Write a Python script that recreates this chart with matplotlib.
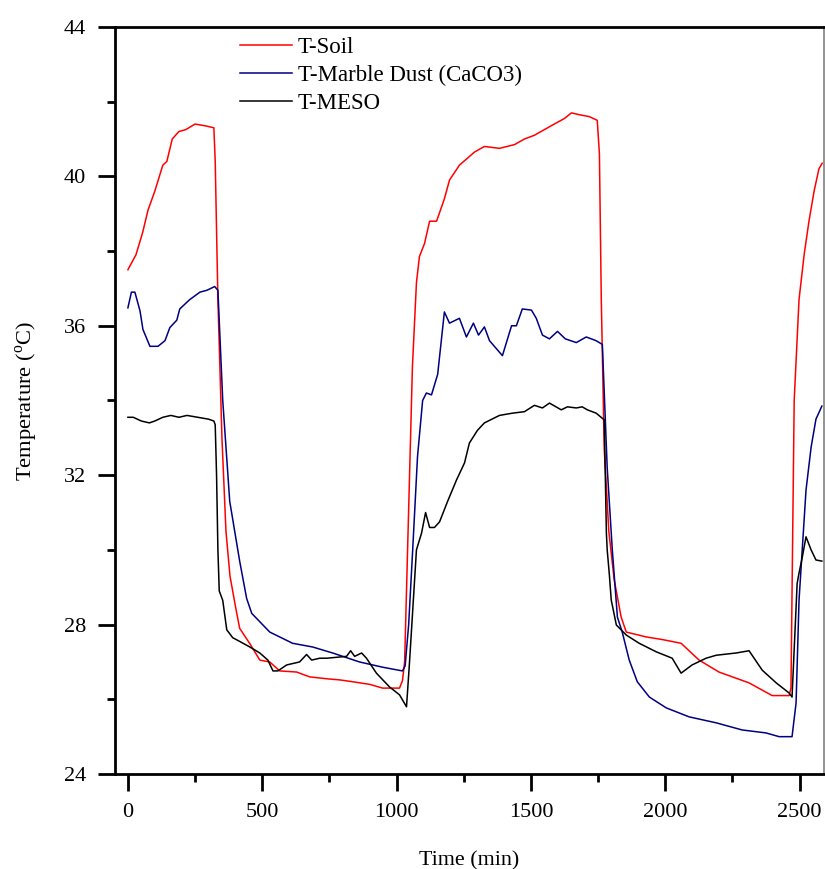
import matplotlib
matplotlib.use("Agg")
import matplotlib.pyplot as plt

plt.rcParams['font.family'] = ['Liberation Serif', 'DejaVu Serif']
plt.rcParams['mathtext.fontset'] = 'custom'
plt.rcParams['mathtext.rm'] = 'Liberation Serif'

# T-Soil (red)
soil_t = [0, 30, 55, 75, 100, 130, 145, 165, 190, 215, 250, 290, 320, 325, 335, 342, 350,
          365, 380, 400, 416, 453, 491, 528, 565, 628, 677, 740, 788, 837, 900, 948, 1011,
          1022, 1030, 1041, 1059, 1074, 1085, 1104, 1123, 1149, 1178, 1197, 1234, 1290,
          1327, 1383, 1439, 1476, 1513, 1550, 1587, 1625, 1651, 1680, 1717, 1747, 1755,
          1762, 1773, 1790, 1810, 1836, 1855, 1929, 1989, 2059, 2126, 2200, 2312, 2398,
          2461, 2468, 2480, 2498, 2517, 2535, 2554, 2572, 2584]
soil_v = [37.5, 37.9, 38.5, 39.1, 39.6, 40.3, 40.4, 41.0, 41.2, 41.25, 41.4, 41.35, 41.3,
          40.4, 36.7, 35.0, 33.0, 30.5, 29.3, 28.5, 27.9, 27.5, 27.05, 27.0, 26.76, 26.73,
          26.6, 26.55, 26.52, 26.47, 26.4, 26.3, 26.3, 26.5, 27.0, 30.0, 34.9, 37.15, 37.85,
          38.2, 38.8, 38.8, 39.4, 39.9, 40.3, 40.65, 40.8, 40.75, 40.85, 41.0, 41.1, 41.25,
          41.4, 41.55, 41.7, 41.65, 41.6, 41.5, 40.6, 36.7, 32.7, 30.5, 29.2, 28.2, 27.8,
          27.67, 27.6, 27.5, 27.05, 26.73, 26.44, 26.1, 26.1, 26.3, 34.0, 36.7, 37.9, 38.8,
          39.6, 40.2, 40.35]

# T-Marble Dust (blue)
marble_t = [0, 13, 26, 45, 56, 82, 112, 138, 156, 182, 193, 230, 268, 294, 323, 335, 353,
            379, 416, 442, 461, 528, 613, 688, 762, 862, 948, 1022, 1032, 1045, 1060, 1078,
            1097, 1111, 1130, 1153, 1178, 1197, 1234, 1260, 1286, 1305, 1327, 1346, 1394,
            1428, 1446, 1468, 1502, 1520, 1543, 1569, 1599, 1628, 1669, 1706, 1743, 1766,
            1784, 1803, 1822, 1840, 1866, 1896, 1941, 2004, 2089, 2190, 2286, 2375, 2424,
            2472, 2487, 2498, 2524, 2543, 2561, 2583]
marble_v = [36.48, 36.9, 36.9, 36.4, 35.9, 35.45, 35.45, 35.6, 35.95, 36.15, 36.45, 36.7,
            36.9, 36.95, 37.05, 36.95, 34.0, 31.3, 29.7, 28.7, 28.3, 27.8, 27.5, 27.4, 27.24,
            27.0, 26.86, 26.76, 26.9, 28.0, 30.0, 32.5, 34.0, 34.2, 34.15, 34.7, 36.37,
            36.07, 36.2, 35.7, 36.07, 35.75, 35.97, 35.6, 35.2, 36.0, 36.0, 36.45, 36.42,
            36.2, 35.75, 35.65, 35.85, 35.65, 35.55, 35.7, 35.6, 35.5, 32.2, 30.0, 28.2,
            27.8, 27.05, 26.47, 26.06, 25.77, 25.53, 25.37, 25.18, 25.1, 25.0, 25.0, 25.9,
            28.65, 31.6, 32.75, 33.5, 33.85]

# T-MESO (black)
meso_t = [0, 20, 50, 80, 100, 130, 160, 190, 220, 260, 300, 320, 325, 330, 335, 340, 353,
          368, 390, 416, 454, 491, 521, 540, 558, 591, 639, 665, 684, 714, 740, 814, 829,
          844, 870, 888, 925, 974, 1011, 1037, 1048, 1074, 1093, 1108, 1123, 1141, 1160,
          1190, 1223, 1253, 1271, 1301, 1327, 1383, 1431, 1476, 1513, 1543, 1569, 1613,
          1636, 1669, 1691, 1710, 1743, 1773, 1781, 1784, 1792, 1799, 1818, 1855, 1903,
          1967, 2026, 2059, 2100, 2152, 2190, 2264, 2312, 2361, 2413, 2461, 2472, 2491,
          2498, 2510, 2524, 2543, 2561, 2583]
meso_v = [33.55, 33.55, 33.45, 33.4, 33.45, 33.55, 33.6, 33.55, 33.6, 33.55, 33.5, 33.45,
          33.35, 32.0, 30.0, 28.9, 28.65, 27.86, 27.65, 27.55, 27.4, 27.24, 27.05, 26.76,
          26.76, 26.92, 27.0, 27.2, 27.05, 27.1, 27.1, 27.15, 27.3, 27.15, 27.24, 27.1,
          26.7, 26.33, 26.12, 25.8, 26.97, 30.0, 30.45, 31.0, 30.6, 30.6, 30.75, 31.3,
          31.87, 32.33, 32.86, 33.2, 33.4, 33.6, 33.66, 33.7, 33.87, 33.8, 33.93, 33.75,
          33.83, 33.8, 33.83, 33.75, 33.66, 33.48, 30.45, 30.0, 29.34, 28.66, 27.99, 27.72,
          27.5, 27.27, 27.1, 26.7, 26.92, 27.1, 27.18, 27.24, 27.3, 26.78, 26.44, 26.17,
          26.06, 29.1, 29.38, 29.8, 30.35, 30.0, 29.73, 29.7]

labels = ['T-Soil', 'T-Marble Dust (CaCO3)', 'T-MESO']
colors = ['#ff0000', '#000080', '#000000']

xticks = [0, 500, 1000, 1500, 2000, 2500]
yticks = [24, 28, 32, 36, 40, 44]

fig = plt.figure(figsize=(8.25, 8.69), dpi=100)
ax = fig.add_axes([0.1394, 0.1093, 0.8594, 0.8597])

ax.plot(soil_t, soil_v, color=colors[0], lw=1.1, label=labels[0])
ax.plot(marble_t, marble_v, color=colors[1], lw=1.1, label=labels[1])
ax.plot(meso_t, meso_v, color=colors[2], lw=1.1, label=labels[2])

ax.set_xlim(-48, 2591)
ax.set_ylim(24, 44)
ax.set_xticks(xticks)
ax.set_yticks(yticks)
ax.set_xticks([250, 750, 1250, 1750, 2250], minor=True)
ax.set_yticks([26, 30, 34, 38, 42], minor=True)
ax.tick_params(axis='both', which='major', direction='out', length=12, width=2,
               labelsize=16, pad=9)
ax.tick_params(axis='both', which='minor', direction='out', length=6, width=2)
ax.tick_params(top=False, right=False, which='both')

for s in ['left', 'bottom', 'top']:
    ax.spines[s].set_linewidth(2)
    ax.spines[s].set_color('black')
ax.spines['right'].set_linewidth(1.2)
ax.spines['right'].set_color('#808080')

ax.set_xlabel('Time (min)', fontsize=15.8, labelpad=21)
ax.set_ylabel('Temperature ($^{\\mathrm{o}}$C)', fontsize=16.2, labelpad=17)

ax.legend(loc='upper left', bbox_to_anchor=(0.176, 0.986), frameon=False,
          fontsize=16.5, handlelength=2.3, handletextpad=0.22, labelspacing=0.3,
          borderaxespad=0, borderpad=0)

fig.savefig('out.png', dpi=100)
